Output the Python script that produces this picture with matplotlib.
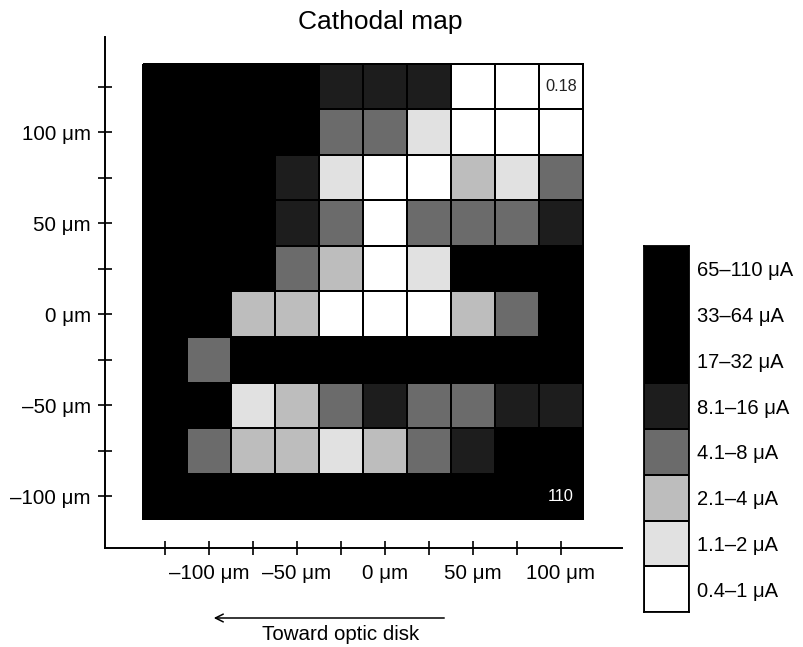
import matplotlib
matplotlib.use("Agg")
import matplotlib.pyplot as plt
import numpy as np
from matplotlib.colors import ListedColormap, BoundaryNorm

plt.rcParams['font.family'] = ['Liberation Sans', 'DejaVu Sans']

# ---- data ----
x_centers = [-125, -100, -75, -50, -25, 0, 25, 50, 75, 100]   # µm
y_centers = [125, 100, 75, 50, 25, 0, -25, -50, -75, -100]     # µm (top to bottom)
x_tick_labels = ['', '\u2013100 \u03bcm', '', '\u201350 \u03bcm', '', '0 \u03bcm', '', '50 \u03bcm', '', '100 \u03bcm']
y_tick_labels = ['', '100 \u03bcm', '', '50 \u03bcm', '', '0 \u03bcm', '', '\u201350 \u03bcm', '', '\u2013100 \u03bcm']

# threshold class per cell (0 = 0.4–1 µA ... 7 = 65–110 µA); rows top to bottom
levels = [
    [5, 5, 5, 5, 4, 4, 4, 0, 0, 0],
    [5, 5, 5, 5, 3, 3, 1, 0, 0, 0],
    [5, 5, 5, 4, 1, 0, 0, 2, 1, 3],
    [5, 5, 5, 4, 3, 0, 3, 3, 3, 4],
    [5, 5, 5, 3, 2, 0, 1, 5, 5, 5],
    [5, 5, 2, 2, 0, 0, 0, 2, 3, 5],
    [5, 3, 5, 5, 5, 5, 5, 5, 5, 5],
    [5, 5, 1, 2, 3, 4, 3, 3, 4, 4],
    [5, 3, 2, 2, 1, 2, 3, 4, 5, 5],
    [5, 5, 5, 5, 5, 5, 5, 5, 5, 7],
]
legend_labels = ['0.4\u20131 \u03bcA', '1.1\u20132 \u03bcA', '2.1\u20134 \u03bcA', '4.1\u20138 \u03bcA',
                 '8.1\u201316 \u03bcA', '17\u201332 \u03bcA', '33\u201364 \u03bcA', '65\u2013110 \u03bcA']
level_colors = ['#ffffff', '#e1e1e1', '#bdbdbd', '#6b6b6b', '#1d1d1d', '#000000', '#000000', '#000000']
annotations = [(100, 125, '0.18'), (100, -100, '110')]
title = 'Cathodal map'
direction_label = 'Toward optic disk'

# ---- figure ----
W, H = 804, 647
fig = plt.figure(figsize=(W / 100, H / 100), dpi=100)

def fx(px):
    return px / W

def fy(py):
    return 1 - py / H

ax = fig.add_axes([fx(105), fy(548), fx(622) - fx(105), fy(37) - fy(548)])

cmap = ListedColormap(level_colors)
norm = BoundaryNorm(np.arange(-0.5, len(level_colors) + 0.5, 1), cmap.N)

xc = np.array(x_centers, dtype=float)
yc = np.array(y_centers, dtype=float)
step = 25.0
x_edges = np.concatenate([xc - step / 2, [xc[-1] + step / 2]])
y_edges = np.concatenate([yc + step / 2, [yc[-1] - step / 2]])
ax.pcolormesh(x_edges, y_edges, np.array(levels), cmap=cmap, norm=norm,
              edgecolors='black', linewidth=1.3)

for (x, y, s) in annotations:
    lev = levels[y_centers.index(y)][x_centers.index(x)]
    col = 'white' if lev >= 4 else '#222222'
    ax.text(x, y, s, ha='center', va='center', fontsize=11.8, color=col)

ax.set_xlim(-159.1, 134.7)
ax.set_ylim(-128.4, 152.3)

for s in ['top', 'right']:
    ax.spines[s].set_visible(False)
for s in ['left', 'bottom']:
    ax.spines[s].set_linewidth(1.4)

ax.set_xticks(x_centers)
ax.set_xticklabels(x_tick_labels)
ax.set_yticks(y_centers)
ax.set_yticklabels(y_tick_labels)
ax.tick_params(axis='x', direction='inout', length=10, width=1.2, labelsize=14.8, pad=6.5)
ax.tick_params(axis='y', direction='inout', length=9.5, width=1.2, labelsize=14.8, pad=5.5)

fig.text(fx(380), fy(22), title, ha='center', va='center', fontsize=19)

# direction arrow
ax.annotate('', xy=(fx(211), fy(618)), xytext=(fx(447), fy(618)),
            xycoords='figure fraction', textcoords='figure fraction',
            arrowprops=dict(arrowstyle='->', lw=1.1, color='black', mutation_scale=14))
fig.text(fx(341), fy(635), direction_label, ha='center', va='center', fontsize=14.8)

# legend bar
cax = fig.add_axes([fx(644), fy(612), fx(689) - fx(644), fy(246) - fy(612)])
lev_idx = np.arange(len(level_colors))
cax.pcolormesh([0, 1], np.arange(len(level_colors) + 1), lev_idx.reshape(-1, 1),
               cmap=cmap, norm=norm, edgecolors='black', linewidth=1.3)
cax.set_xlim(0, 1)
cax.set_ylim(0, len(level_colors))
cax.set_xticks([])
cax.set_yticks(lev_idx + 0.5)
cax.set_yticklabels(legend_labels)
cax.yaxis.tick_right()
cax.tick_params(axis='y', length=0, labelsize=14.5, pad=6)
for s in cax.spines.values():
    s.set_linewidth(1.3)

fig.savefig('out.png', dpi=100)
